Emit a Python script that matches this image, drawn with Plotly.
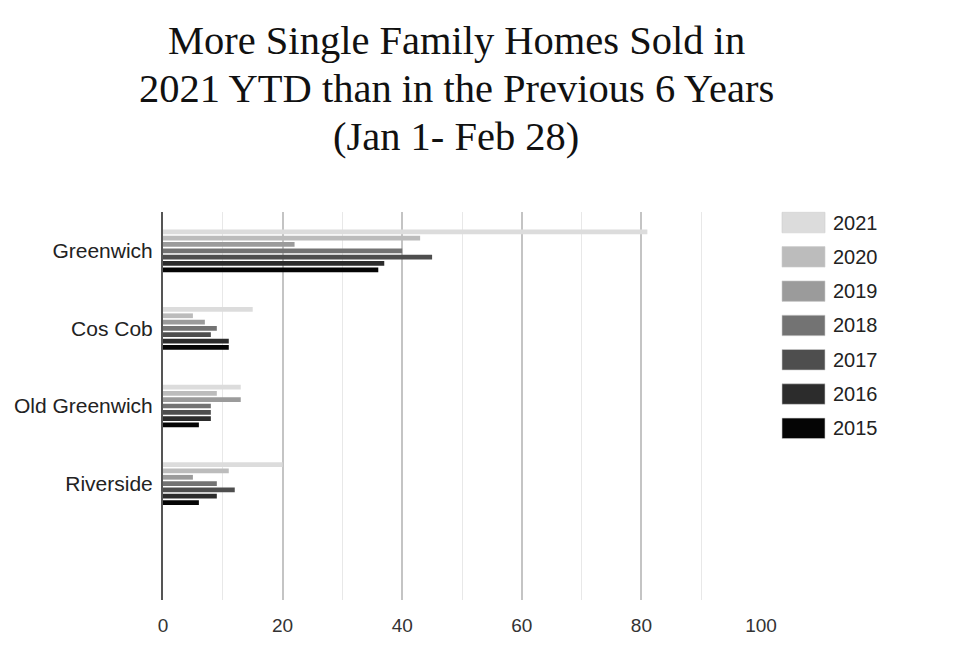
import plotly.graph_objects as go

neighborhoods = ["Greenwich", "Cos Cob", "Old Greenwich", "Riverside"]
years = ["2021", "2020", "2019", "2018", "2017", "2016", "2015"]
sales_2021 = [81, 15, 13, 20]
sales_2020 = [43, 5, 9, 11]
sales_2019 = [22, 7, 13, 5]
sales_2018 = [40, 9, 8, 9]
sales_2017 = [45, 8, 8, 12]
sales_2016 = [37, 11, 8, 9]
sales_2015 = [36, 11, 6, 6]
series = [sales_2021, sales_2020, sales_2019, sales_2018, sales_2017, sales_2016, sales_2015]
colors = ["#dcdcdc", "#bcbcbc", "#9b9b9b", "#737373", "#4e4e4e", "#2c2c2c", "#050505"]
x_ticks = [0, 20, 40, 60, 80, 100]

title_lines = ["More Single Family Homes Sold in",
               "2021 YTD than in the Previous 6 Years",
               "(Jan 1- Feb 28)"]

fig = go.Figure()
for yr, vals, col in zip(years, series, colors):
    fig.add_trace(go.Bar(
        y=neighborhoods, x=vals, name=yr, orientation="h",
        marker=dict(color=col, line=dict(width=0)), showlegend=False,
    ))

OFF = 8  # page body margin
W, H = 971, 654
L, T = 163 - OFF, 212 - OFF
plot_right, plot_bottom = 761 - OFF, 600 - OFF
R, B = W - plot_right, H - plot_bottom
plot_w = plot_right - L
plot_h = plot_bottom - T


def px2x(page_x):
    return (page_x - OFF - L) / plot_w


def px2y(page_y):
    return (plot_bottom - (page_y - OFF)) / plot_h


# custom legend swatches (layout, paper coordinates)
pitch = 34.3
for i, (yr, col) in enumerate(zip(years, colors)):
    top = 212.3 + i * pitch
    y1 = px2y(top)
    y0 = px2y(top + 20.5)
    fig.add_shape(type="rect", xref="paper", yref="paper", x0=px2x(782), x1=px2x(825), y0=y0, y1=y1,
                  fillcolor=col, line=dict(width=0.6, color="#cfcfcf"), layer="above")
    fig.add_annotation(xref="paper", yref="paper", x=px2x(831), y=(y0 + y1) / 2,
                       text=yr, showarrow=False, xanchor="left", yanchor="middle",
                       font=dict(family="Liberation Sans, Arial", size=20, color="#222222"))

# title lines
baselines = [52, 100, 148]
for line, bl in zip(title_lines, baselines):
    fig.add_annotation(xref="paper", yref="paper", x=px2x(456), y=px2y(bl - 12),
                       text=line, showarrow=False, xanchor="center", yanchor="middle",
                       font=dict(family="Liberation Serif, Times New Roman, serif", size=40.5,
                                 color="#111111"))

fig.update_layout(
    width=W, height=H,
    margin=dict(l=L, r=R, t=T, b=B, autoexpand=False),
    paper_bgcolor="white", plot_bgcolor="white",
    barmode="group", bargap=0.43, bargroupgap=0.25,
    xaxis=dict(range=[0, 100], tickvals=x_ticks, showgrid=True, gridcolor="#c4c4c4", gridwidth=1.6,
               minor=dict(dtick=10, tick0=0, showgrid=True, gridcolor="#e8e8e8", gridwidth=1.3),
               zeroline=False, showline=False, ticks="", ticklabelstandoff=12, automargin=False,
               tickfont=dict(family="Liberation Sans, Arial", size=19, color="#333333")),
    yaxis=dict(categoryorder="array", categoryarray=neighborhoods, range=[4.5, -0.5],
               showgrid=False, zeroline=False, showline=True, linecolor="#555555", linewidth=2,
               ticks="", ticklabelstandoff=4, automargin=False,
               tickfont=dict(family="Liberation Sans, Arial", size=21, color="#222222")),
)

fig.write_html("out.html")
